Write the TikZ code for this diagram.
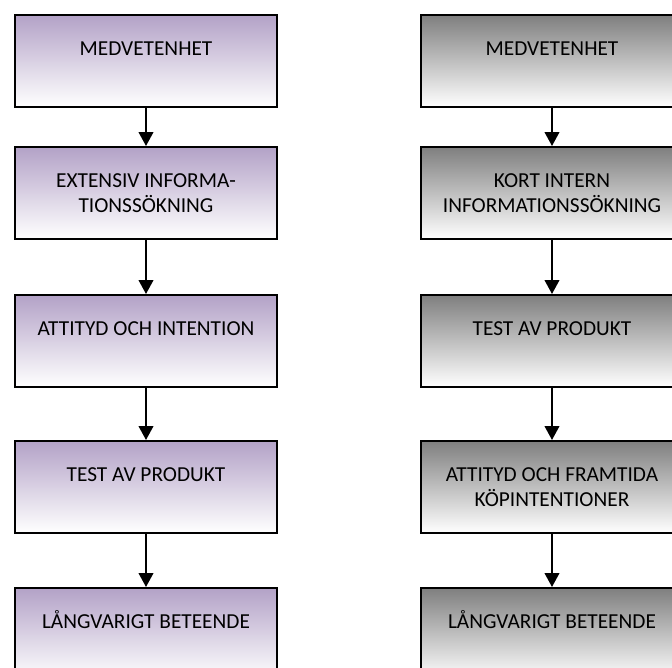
\documentclass[tikz,border=0pt]{standalone}
\usepackage{fontspec}
\setmainfont{Carlito}
\usetikzlibrary{positioning,arrows.meta}
\definecolor{lila}{HTML}{B3A2C7}
\definecolor{gra}{HTML}{7F7F7F}
\tikzset{
  steg/.style={draw,line width=1.5pt,minimum width=196.5pt,minimum height=69pt,inner ysep=0pt,
    align=center,text height=30pt,text depth=39pt,font=\fontsize{16}{19}\selectfont},
  tvarad/.style={text height=49pt,text depth=20pt},
  lsteg/.style={steg,top color=lila,bottom color=white},
  rsteg/.style={steg,top color=gra,bottom color=white},
  pil/.style={-{Triangle[length=10.5pt,width=11pt]},line width=1.5pt}
}

\begin{document}
\begin{tikzpicture}
\useasboundingbox (0,0) rectangle (504pt,-501pt);
\clip (0,0) rectangle (504pt,-501pt);

\node[lsteg,anchor=north] (v1) at (109.5pt,-10.5pt) {MEDVETENHET};
\node[lsteg,tvarad,below=28.5pt of v1] (v2) {EXTENSIV INFORMA-\\TIONSSÖKNING};
\node[lsteg,below=40.5pt of v2] (v3) {ATTITYD OCH INTENTION};
\node[lsteg,below=39pt of v3] (v4) {TEST AV PRODUKT};
\node[lsteg,below=39.75pt of v4] (v5) {LÅNGVARIGT BETEENDE};

\node[rsteg,anchor=north] (h1) at (414pt,-10.5pt) {MEDVETENHET};
\node[rsteg,tvarad,below=28.5pt of h1] (h2) {KORT INTERN\\INFORMATIONSSÖKNING};
\node[rsteg,below=40.5pt of h2] (h3) {TEST AV PRODUKT};
\node[rsteg,tvarad,below=39pt of h3] (h4) {ATTITYD OCH FRAMTIDA\\KÖPINTENTIONER};
\node[rsteg,below=39.75pt of h4] (h5) {LÅNGVARIGT BETEENDE};

\foreach \a/\b in {1/2,2/3,3/4,4/5}{
  \draw[pil] (v\a) -- (v\b);
  \draw[pil] (h\a) -- (h\b);
}
\end{tikzpicture}
\end{document}
